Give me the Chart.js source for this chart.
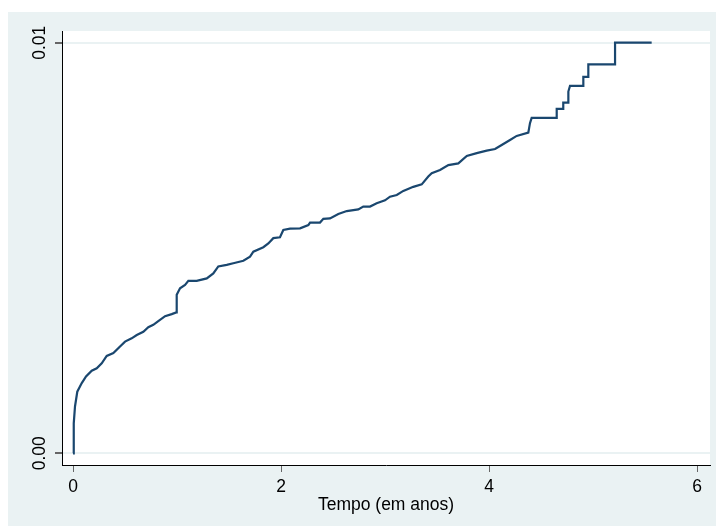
<!DOCTYPE html>
<html>
<head>
<meta charset="utf-8">
<script src="https://cdn.jsdelivr.net/npm/chart.js@4.4.0/dist/chart.umd.min.js"></script>
<style>
  body { margin: 0; background: #fff; }
  #wrap { position: absolute; left: 8px; top: 12px; width: 708px; height: 514px; }
</style>
</head>
<body>
<div id="wrap"><canvas id="km" width="708" height="514"></canvas></div>
<script>
// cumulative failure curve (years, probability)
var timeVals = [0, 0.007, 0.019, 0.041, 0.084, 0.125, 0.18, 0.228, 0.276, 0.324, 0.388, 0.452, 0.5, 0.564, 0.613, 0.676,
  0.724, 0.772, 0.82, 0.885, 0.949, 0.993, 0.997, 1.029, 1.077, 1.109, 1.189, 1.286, 1.349, 1.397, 1.478, 1.541, 1.638,
  1.702, 1.734, 1.83, 1.878, 1.926, 1.99, 2.022, 2.087, 2.183, 2.263, 2.279, 2.375, 2.407, 2.471, 2.551, 2.632, 2.743,
  2.791, 2.856, 2.92, 3.0, 3.048, 3.113, 3.176, 3.272, 3.353, 3.416, 3.449, 3.529, 3.609, 3.705, 3.786, 3.882, 3.978,
  4.058, 4.122, 4.202, 4.266, 4.378, 4.394, 4.41, 4.651, 4.651, 4.714, 4.714, 4.763, 4.763, 4.779, 4.907, 4.907,
  4.955, 4.955, 5.212, 5.212, 5.564];
var failVals = [0, 0.00073, 0.00114, 0.0015, 0.00171, 0.00187, 0.00201, 0.00207, 0.00219, 0.00237, 0.00244, 0.0026,
  0.00272, 0.0028, 0.00288, 0.00296, 0.00307, 0.00313, 0.00322, 0.00334, 0.00339, 0.00343, 0.00386, 0.00402, 0.0041,
  0.0042, 0.0042, 0.00426, 0.00438, 0.00455, 0.00459, 0.00463, 0.00469, 0.00479, 0.00491, 0.00502, 0.00511, 0.00524,
  0.00526, 0.00544, 0.00547, 0.00548, 0.00556, 0.00562, 0.00562, 0.00571, 0.00572, 0.00583, 0.0059, 0.00594, 0.00601,
  0.00601, 0.00609, 0.00616, 0.00625, 0.00629, 0.00639, 0.00649, 0.00655, 0.00674, 0.00682, 0.0069, 0.00702, 0.00706,
  0.00724, 0.00731, 0.00737, 0.00741, 0.00751, 0.00763, 0.00773, 0.00781, 0.00804, 0.00817, 0.00817, 0.00839, 0.00839,
  0.00854, 0.00854, 0.00881, 0.00895, 0.00895, 0.00917, 0.00917, 0.00947, 0.00947, 0.01, 0.01];
var xTicks = [0, 2, 4, 6];
var yTicks = [0, 0.01];

var pts = timeVals.map(function (t, i) { return { x: t, y: failVals[i] }; });

// outer light background + white plot region
const bgPlugin = {
  id: 'bg',
  beforeDraw: function (chart) {
    const c = chart.ctx, a = chart.chartArea;
    c.save();
    c.fillStyle = '#eaf2f3';
    c.fillRect(0, 0, chart.width, chart.height);
    c.fillStyle = '#ffffff';
    c.fillRect(a.left, a.top, a.right - a.left, a.bottom - a.top);
    c.restore();
  }
};

const fnt = { family: 'Liberation Sans, Arial', size: 17.5 };

const ctx = document.getElementById('km').getContext('2d');
const km = new Chart(ctx, {
  type: 'line',
  data: {
    datasets: [{
      data: pts,
      borderColor: '#1a476f',
      borderWidth: 2.2,
      pointRadius: 0,
      tension: 0,
      fill: false
    }]
  },
  options: {
    responsive: false,
    animation: false,
    layout: { padding: { top: 19, right: 6, left: 0, bottom: 0 } },
    plugins: { legend: { display: false }, tooltip: { enabled: false } },
    scales: {
      x: {
        type: 'linear',
        min: -0.106,
        max: 6.125,
        afterBuildTicks: function (s) { s.ticks = xTicks.map(function (v) { return { value: v }; }); },
        afterFit: function (s) { s.height = 61; },
        grid: { drawOnChartArea: false, drawTicks: true, tickLength: 7, tickColor: '#666' },
        border: { display: true, color: '#000', width: 1 },
        ticks: { color: '#000', padding: 5, font: fnt },
        title: {
          display: true,
          text: 'Tempo (em anos)',
          color: '#000',
          padding: { top: 0, bottom: 10 },
          font: fnt
        }
      },
      y: {
        type: 'linear',
        min: -0.000285,
        max: 0.010285,
        afterBuildTicks: function (s) { s.ticks = yTicks.map(function (v) { return { value: v }; }); },
        afterFit: function (s) { s.width = 54; },
        grid: { color: '#eaf2f3', lineWidth: 2, tickLength: 7, tickColor: '#666' },
        border: { display: true, color: '#000', width: 1 },
        ticks: {
          color: '#000',
          padding: -2,
          minRotation: 90,
          maxRotation: 90,
          crossAlign: 'center',
          font: fnt,
          callback: function (v) { return v.toFixed(2); }
        }
      }
    }
  },
  plugins: [bgPlugin]
});
</script>
</body>
</html>
